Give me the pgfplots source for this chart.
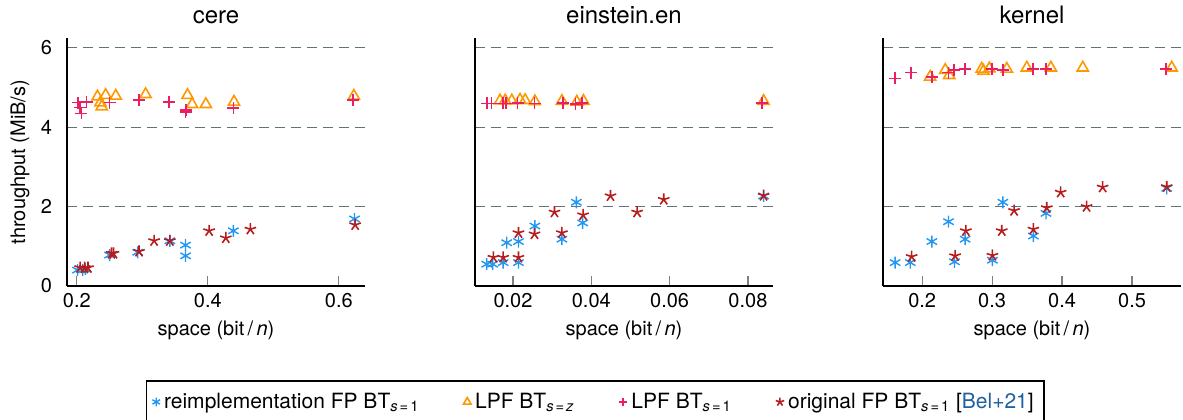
\documentclass[border=0pt]{standalone}
\usepackage{fontspec}
\setmainfont{TeX Gyre Heros}
\usepackage{pgfplots}
\pgfplotsset{compat=1.18}
\usepgfplotslibrary{groupplots}

\definecolor{reimpl}{RGB}{33,150,243}
\definecolor{lpfz}{RGB}{255,152,0}
\definecolor{lpfone}{RGB}{233,30,99}
\definecolor{orig}{RGB}{183,28,28}
\definecolor{gridc}{RGB}{95,115,125}
\definecolor{citeblue}{RGB}{31,96,160}

\pgfplotsset{
  reimpl/.style={only marks, mark=asterisk, mark size=3pt, color=reimpl, line width=0.7pt},
  lpfz/.style={only marks, mark=triangle, mark size=3.2pt, color=lpfz, line width=0.8pt},
  lpfone/.style={only marks, mark=+, mark size=3pt, color=lpfone, line width=0.8pt},
  orig/.style={only marks, mark=star, mark size=3pt, color=orig, line width=0.8pt},
}
\newcommand{\sub}[1]{\textsubscript{#1}}
\newcommand{\sone}{\sub{\textit{s}\kern1pt=\kern1pt1}}

\begin{document}
\begin{tikzpicture}[font=\fontsize{10}{12}\selectfont]
\begin{groupplot}[
  group style={group size=3 by 1, horizontal sep=55pt, yticklabels at=edge left},
  scale only axis, width=149pt, height=124pt,
  axis lines=left, axis line style={-, line width=0.9pt},
  ymin=0, ymax=6.25, ytick={0,2,4,6},
  ymajorgrids, major grid style={color=gridc, line width=0.5pt, dash pattern=on 5pt off 3pt},
  ytick style={draw=none},
  xtick style={color=gray, line width=0.6pt},
  tick align=inside, major tick length=5pt,
  scaled x ticks=false,
  xticklabel style={/pgf/number format/fixed, /pgf/number format/precision=2},
  yticklabel style={xshift=-4pt},
  /pgf/number format/assume math mode=true,
  xlabel={space (bit\,/\,\textit{n})},
  ylabel style={at={([xshift=-23.5pt]axis description cs:0,0.5)}, anchor=center},
  every axis title shift=0pt,
  title style={font=\fontsize{12}{14}\selectfont, at={([yshift=7pt]axis description cs:0.5,1)}, anchor=base},
  clip=false,
]

% cere
\nextgroupplot[title={cere}, ylabel={throughput (MiB/s)},
  xmin=0.185, xmax=0.64, xtick={0.2,0.4,0.6}]
\addplot[reimpl] coordinates {
  (0.201,0.40) (0.209,0.40) (0.213,0.43) (0.250,0.78) (0.293,0.85)
  (0.342,1.14) (0.366,1.03) (0.366,0.76) (0.439,1.39) (0.624,1.69)};
\addplot[lpfz] coordinates {
  (0.2315,4.77) (0.236,4.62) (0.238,4.52) (0.244,4.81) (0.2595,4.79)
  (0.305,4.83) (0.369,4.81) (0.376,4.58) (0.397,4.58) (0.440,4.64) (0.623,4.79)};
\addplot[lpfone] coordinates {
  (0.202,4.62) (0.205,4.50) (0.207,4.35) (0.215,4.64) (0.250,4.62) (0.295,4.68)
  (0.341,4.64) (0.366,4.39) (0.367,4.44) (0.439,4.48) (0.622,4.68)};
\addplot[orig] coordinates {
  (0.205,0.46) (0.212,0.46) (0.217,0.46) (0.253,0.82) (0.256,0.82) (0.295,0.87)
  (0.318,1.14) (0.342,1.14) (0.402,1.39) (0.4275,1.21) (0.465,1.43) (0.625,1.54)};

% einstein.en
\nextgroupplot[title={einstein.en},
  xmin=0.0103, xmax=0.0864, xtick={0.02,0.04,0.06,0.08},
  legend columns=4,
  legend style={at={(0.403,-0.379)}, anchor=north, draw=black, line width=0.8pt,
    font=\fontsize{10.5}{12.5}\selectfont,
    inner xsep=3pt, inner ysep=4pt,
    /tikz/every even column/.append style={column sep=20pt}},
  legend image code/.code={\draw[mark size=2.2pt,mark repeat=2,mark phase=2] plot coordinates {(0cm,0cm) (0.15cm,0cm) (0.3cm,0cm)};},
  legend cell align=left]
\addplot[reimpl] coordinates {
  (0.0133,0.55) (0.0148,0.55) (0.0175,0.59) (0.0214,0.59) (0.0184,1.09) (0.0214,1.12)
  (0.0256,1.51) (0.0325,1.18) (0.0362,2.11) (0.0378,1.59) (0.084,2.27)};
\addlegendentry{reimplementation FP BT\sone}
\addplot[lpfz] coordinates {
  (0.0167,4.67) (0.018,4.67) (0.0197,4.67) (0.0218,4.69) (0.0231,4.68) (0.0256,4.65)
  (0.0325,4.66) (0.0363,4.64) (0.038,4.66) (0.084,4.66)};
\addlegendentry{LPF BT\sub{\textit{s}\kern1pt=\kern1pt\textit{z}}}
\addplot[lpfone] coordinates {
  (0.0133,4.60) (0.0145,4.60) (0.0175,4.60) (0.0182,4.60) (0.0212,4.61) (0.0255,4.60)
  (0.0328,4.61) (0.036,4.59) (0.0377,4.61) (0.0836,4.61)};
\addlegendentry{LPF BT\sone}
\addplot[orig] coordinates {
  (0.015,0.72) (0.0175,0.72) (0.0214,0.72) (0.0214,1.34) (0.0255,1.31) (0.0306,1.86)
  (0.0325,1.34) (0.0379,1.79) (0.0449,2.27) (0.0517,1.86) (0.0585,2.18) (0.084,2.28)};
\addlegendentry{original FP BT\sone{} [\textcolor{citeblue}{Bel+21}]}

% kernel
\nextgroupplot[title={kernel},
  xmin=0.144, xmax=0.57, xtick={0.2,0.3,0.4,0.5}]
\addplot[reimpl] coordinates {
  (0.1614,0.59) (0.183,0.59) (0.2138,1.12) (0.2376,1.62) (0.2462,0.61) (0.2614,1.18)
  (0.3004,0.65) (0.3153,2.11) (0.359,1.26) (0.377,1.83) (0.5496,2.46)};
\addplot[lpfz] coordinates {
  (0.2114,5.27) (0.2329,5.44) (0.2386,5.31) (0.285,5.47) (0.2876,5.42) (0.296,5.48)
  (0.321,5.47) (0.3496,5.50) (0.384,5.50) (0.4296,5.50) (0.5567,5.50)};
\addplot[lpfone] coordinates {
  (0.1614,5.23) (0.1838,5.38) (0.2138,5.27) (0.2376,5.38) (0.2457,5.44) (0.2614,5.47)
  (0.2996,5.47) (0.3153,5.44) (0.358,5.47) (0.377,5.47) (0.5486,5.47)};
\addplot[orig] coordinates {
  (0.185,0.74) (0.247,0.76) (0.2624,1.39) (0.3004,0.77) (0.3138,1.39) (0.3314,1.90)
  (0.359,1.43) (0.378,1.97) (0.398,2.36) (0.435,2.00) (0.458,2.49) (0.5496,2.50)};
\end{groupplot}
\pgfresetboundingbox
\path[use as bounding box] ([xshift=-33.5pt,yshift=-67pt]group c1r1.south west)
  rectangle ([xshift=1pt,yshift=19pt]group c3r1.north east);
\end{tikzpicture}
\end{document}
